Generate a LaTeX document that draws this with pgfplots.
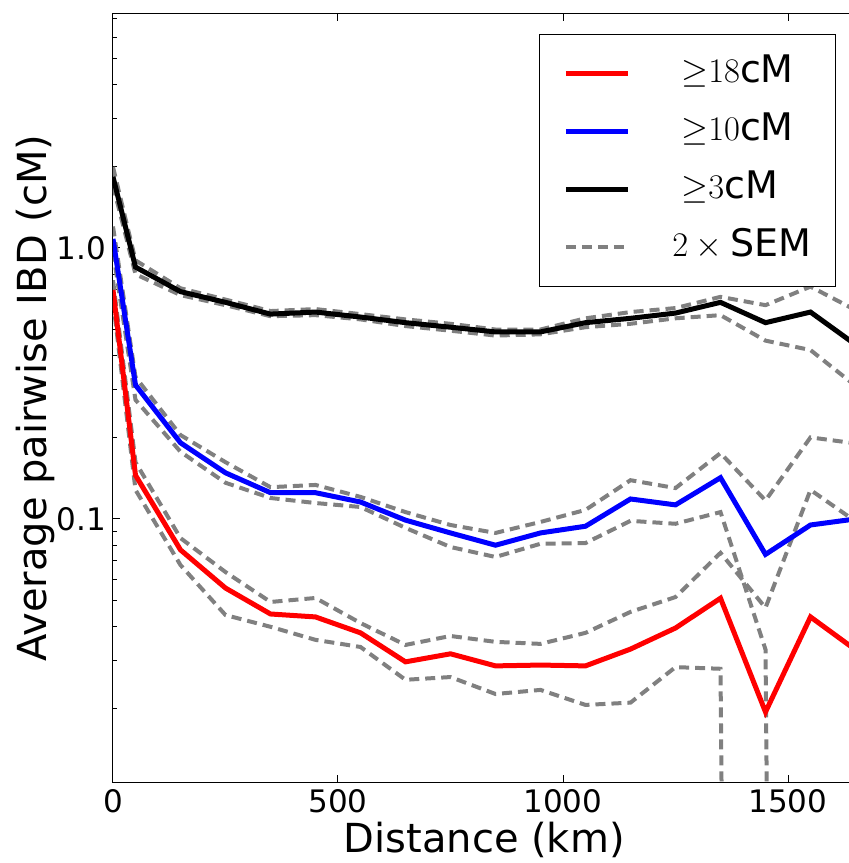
\documentclass[border=0pt]{standalone}
\usepackage[no-math]{fontspec}
\setmainfont{DejaVu Sans}
\usepackage{pgfplots}
\usepackage{pgfplotstable}
\pgfplotsset{compat=1.18}

% mean IBD per distance bin, with +/- 2 SEM bounds (1e-20 = bound <= 0)
\pgfplotstableread{
x    r      rlo     rhi    b      blo     bhi    k      klo    khi
0    0.70   0.64    0.76   1.08   0.97    1.20   1.83   1.70   1.99
50   0.145  0.128   0.162  0.312  0.275   0.334  0.85   0.80   0.90
150  0.0769 0.0676  0.085  0.191  0.177   0.204  0.69   0.67   0.71
250  0.0556 0.0442  0.0637 0.148  0.136   0.162  0.63   0.615  0.645
350  0.0446 0.040   0.0494 0.125  0.1195  0.131  0.57   0.56   0.585
450  0.0435 0.0358  0.0511 0.125  0.1145  0.1335 0.58   0.565  0.595
550  0.038  0.0337  0.0413 0.1155 0.1107  0.1206 0.556  0.545  0.57
650  0.0297 0.0255  0.0343 0.099  0.0927  0.106  0.53   0.515  0.545
750  0.0318 0.0261  0.037  0.0888 0.0788  0.095  0.51   0.495  0.525
850  0.0287 0.0226  0.0352 0.080  0.0724  0.0888 0.49   0.475  0.50
950  0.0289 0.0234  0.0346 0.0888 0.081   0.0975 0.49   0.48   0.50
1050 0.0287 0.0206  0.038  0.094  0.0815  0.108  0.53   0.51   0.55
1150 0.0331 0.021   0.0454 0.1185 0.0984  0.139  0.55   0.525  0.58
1250 0.0396 0.0284  0.0515 0.1127 0.096   0.130  0.575  0.55   0.60
1350 0.051  0.028   0.075  0.142  0.106   0.175  0.63   0.565  0.66
1450 0.0194 1e-20   0.047  0.074  0.033   0.117  0.53   0.455  0.615
1550 0.0435 1e-20   0.128  0.095  1e-20   0.200  0.58   0.42   0.72
1650 0.0329 1e-20   0.098  0.100  1e-20   0.190  0.44   0.31   0.59
}\ibd

\begin{document}
\begin{tikzpicture}
\begin{axis}[
  name=ax,
  scale only axis, width=371.25pt, height=384pt,
  xmin=0, xmax=1650, ymin=0.0107, ymax=7.3, ymode=log,
  xtick={0,500,1000,1500},
  ytick={0.1,1}, yticklabels={0.1,1.0},
  minor ytick={0.02,0.03,0.04,0.05,0.06,0.07,0.08,0.09,0.2,0.3,0.4,0.5,0.6,0.7,0.8,0.9,2,3,4,5,6,7},
  /pgf/number format/assume math mode=true,
  /pgf/number format/1000 sep={},
  tick label style={font=\fontsize{15.5}{18}\selectfont},
  major tick length=3.5pt, minor tick length=2pt,
  tick style={black, line width=0.5pt},
  axis line style={line width=0.5pt},
  xlabel={Distance (km)}, ylabel={Average pairwise IBD (cM)},
  label style={font=\fontsize{20}{24}\selectfont},
  xlabel style={at={([yshift=-29pt]rel axis cs:0.5,0)}, anchor=center},
  ylabel style={at={([xshift=-39pt]rel axis cs:0,0.5)}, anchor=center},
  legend style={at={(0.9737,0.974)}, anchor=north east, draw=black, line width=0.5pt,
    font=\fontsize{19}{22}\selectfont, inner xsep=12pt, inner ysep=10pt,
    row sep=10pt, column sep=21pt,
    nodes={inner sep=0pt, text height=14pt, text depth=5pt, anchor=west}},
  legend cell align=left,
  legend image code/.code={\draw[#1] (0pt,0pt) -- (31pt,0pt);},
  sem/.style={color=gray, line width=2pt, dash pattern=on 5pt off 3pt},
]
\addplot[sem, forget plot] table[x=x, y=rhi] {\ibd};
\addplot[sem, forget plot] table[x=x, y=rlo] {\ibd};
\addplot[sem, forget plot] table[x=x, y=bhi] {\ibd};
\addplot[sem, forget plot] table[x=x, y=blo] {\ibd};
\addplot[sem, forget plot] table[x=x, y=khi] {\ibd};
\addplot[sem, forget plot] table[x=x, y=klo] {\ibd};

\addplot[red, line width=2.5pt] table[x=x, y=r] {\ibd};
\addlegendentry{\hspace*{4.5pt}${\geq}18$cM}
\addplot[blue, line width=2.5pt] table[x=x, y=b] {\ibd};
\addlegendentry{\hspace*{4.5pt}${\geq}10$cM}
\addplot[black, line width=2.5pt] table[x=x, y=k] {\ibd};
\addlegendentry{\hspace*{4.5pt}${\geq}3$cM}
\addlegendimage{sem}
\addlegendentry{$2\times{}$SEM}
\end{axis}
\pgfresetboundingbox
\path[use as bounding box] ([shift={(-56.5pt,-40.5pt)}]ax.south west) rectangle ([shift={(368pt,391pt)}]ax.south west);
\end{tikzpicture}
\end{document}
